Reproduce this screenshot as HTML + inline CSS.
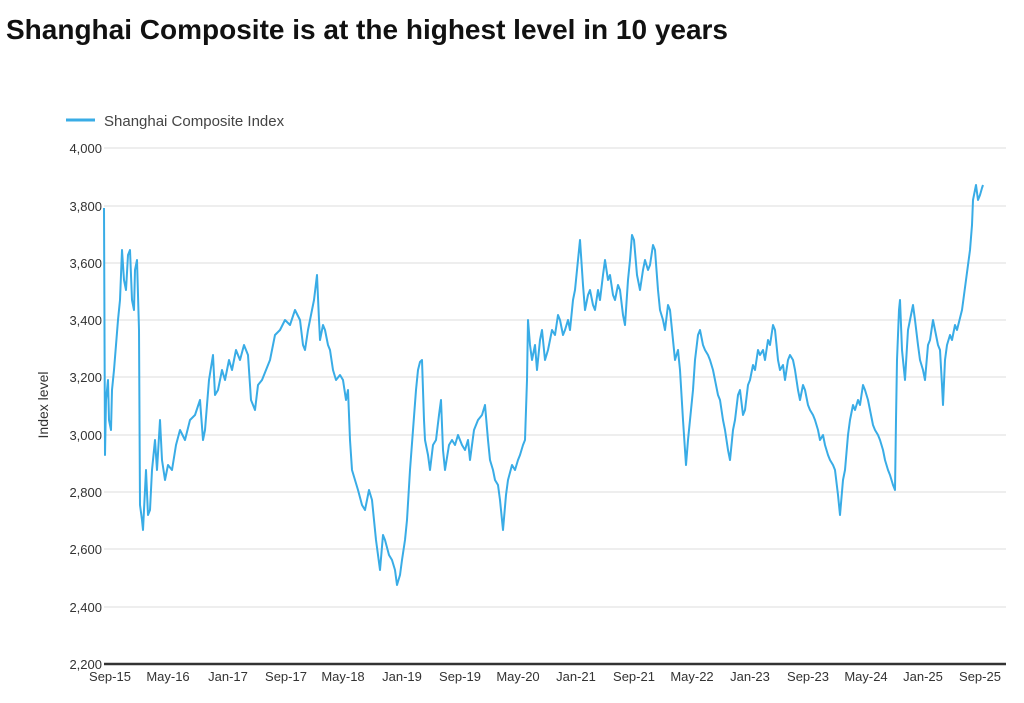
<!DOCTYPE html>
<html><head><meta charset="utf-8"><style>
body{margin:0;background:#fff;width:1024px;height:698px;overflow:hidden;font-family:"Liberation Sans",sans-serif}
</style></head><body>
<svg width="1024" height="698" xmlns="http://www.w3.org/2000/svg" font-family="Liberation Sans, sans-serif">
<text x="6" y="39" font-size="28" font-weight="bold" fill="#111">Shanghai Composite is at the highest level in 10 years</text>
<line x1="66" y1="120" x2="95" y2="120" stroke="#39ace6" stroke-width="3"/>
<text x="104" y="126" font-size="15" fill="#444">Shanghai Composite Index</text>
<g stroke="#e4e4e4" stroke-width="1.2">
<line x1="104" y1="148" x2="1006" y2="148"/><line x1="104" y1="206" x2="1006" y2="206"/>
<line x1="104" y1="263" x2="1006" y2="263"/><line x1="104" y1="320" x2="1006" y2="320"/>
<line x1="104" y1="377" x2="1006" y2="377"/><line x1="104" y1="435" x2="1006" y2="435"/>
<line x1="104" y1="492" x2="1006" y2="492"/><line x1="104" y1="549" x2="1006" y2="549"/>
<line x1="104" y1="607" x2="1006" y2="607"/>
</g>
<g font-size="13" fill="#333" text-anchor="end">
<text x="102" y="153">4,000</text><text x="102" y="211">3,800</text><text x="102" y="268">3,600</text>
<text x="102" y="325">3,400</text><text x="102" y="382">3,200</text><text x="102" y="440">3,000</text>
<text x="102" y="497">2,800</text><text x="102" y="554">2,600</text><text x="102" y="612">2,400</text>
<text x="102" y="669">2,200</text>
</g>
<text transform="translate(48,405) rotate(-90)" font-size="14" fill="#333" text-anchor="middle">Index level</text>
<polyline fill="none" stroke="#39ace6" stroke-width="2" stroke-linejoin="round" points="104,208 105,455 106,400 108,380 109,420 111,430 112,390 114,370 116,345 118,320 120,300 122,250 124,280 126,290 128,255 130,250 132,300 134,310 135,270 137,260 139,330 140,505 142,520 143,530 145,490 146,470 148,515 150,510 152,470 155,440 157,470 160,420 162,460 165,480 168,465 172,470 176,445 180,430 185,440 190,420 195,415 200,400 203,440 205,430 209,380 213,355 215,395 218,390 222,370 225,380 229,360 232,370 236,350 240,360 244,345 248,355 251,400 255,410 258,385 262,380 266,370 270,360 275,335 280,330 285,320 290,325 295,310 300,320 303,345 305,350 308,330 310,320 314,300 317,275 319,320 320,340 323,325 325,330 328,345 330,350 333,370 336,380 340,375 343,380 346,400 348,390 350,440 352,470 355,480 358,490 362,505 365,510 369,490 372,500 376,540 380,570 383,535 385,540 389,555 392,560 395,570 397,585 400,575 402,560 405,540 407,520 410,470 413,430 416,390 418,370 420,362 422,360 424,420 425,440 428,455 430,470 433,445 436,440 439,415 441,400 443,450 445,470 449,445 452,440 455,445 458,435 462,445 465,450 468,440 470,460 474,430 478,420 482,415 485,405 488,440 490,460 493,470 495,480 498,485 500,500 502,520 503,530 506,495 508,480 512,465 515,470 518,460 520,455 523,445 525,440 527,380 528,320 530,345 532,360 535,345 537,370 540,340 542,330 545,360 548,350 552,330 555,335 558,315 560,320 563,335 565,330 568,320 570,330 573,300 575,290 578,260 580,240 583,285 585,310 588,295 590,290 593,305 595,310 598,290 600,300 603,275 605,260 608,280 610,275 613,295 615,300 618,285 620,290 623,315 625,325 628,280 630,260 632,235 634,240 637,275 640,290 643,270 645,260 648,270 650,265 653,245 655,250 658,290 660,310 663,320 665,330 668,305 670,310 673,340 675,360 678,350 680,370 683,420 686,465 688,440 690,420 693,390 695,360 698,335 700,330 703,345 705,350 708,355 710,360 713,370 715,380 718,395 720,400 723,420 725,430 728,450 730,460 733,430 735,420 738,395 740,390 743,415 745,410 748,385 750,380 753,365 755,370 758,350 760,355 763,350 765,360 768,340 770,345 773,325 775,330 778,360 780,370 783,365 785,380 788,360 790,355 793,360 795,370 798,390 800,400 803,385 805,390 808,405 810,410 813,415 815,420 818,430 820,440 823,435 825,445 828,455 830,460 833,465 835,470 838,495 840,515 843,480 845,470 848,435 850,420 853,405 855,410 858,400 860,405 863,385 865,390 868,400 870,410 873,425 875,430 878,435 880,440 883,450 885,460 888,470 890,475 893,485 895,490 896,420 897,360 899,310 900,300 902,350 905,380 908,330 910,320 913,305 915,320 918,345 920,360 923,370 925,380 928,345 930,340 933,320 935,330 938,345 940,350 942,385 943,405 945,360 947,345 950,335 952,340 955,325 957,330 960,318 962,310 964,295 966,280 968,265 970,250 972,225 973,200 975,190 976,185 978,200 980,195 982,188 983,185"/>
<line x1="104" y1="664" x2="1006" y2="664" stroke="#333" stroke-width="2.5"/>
<g font-size="13" fill="#333" text-anchor="middle">
<text x="110" y="681">Sep-15</text><text x="168" y="681">May-16</text><text x="228" y="681">Jan-17</text>
<text x="286" y="681">Sep-17</text><text x="343" y="681">May-18</text><text x="402" y="681">Jan-19</text>
<text x="460" y="681">Sep-19</text><text x="518" y="681">May-20</text><text x="576" y="681">Jan-21</text>
<text x="634" y="681">Sep-21</text><text x="692" y="681">May-22</text><text x="750" y="681">Jan-23</text>
<text x="808" y="681">Sep-23</text><text x="866" y="681">May-24</text><text x="923" y="681">Jan-25</text>
<text x="980" y="681">Sep-25</text>
</g>
</svg>
</body></html>
